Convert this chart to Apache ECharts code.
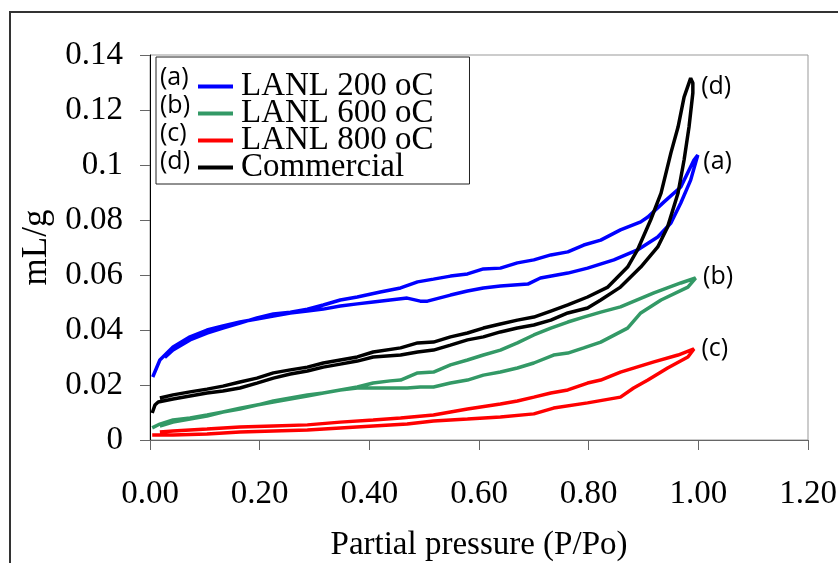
<!DOCTYPE html>
<html>
<head>
<meta charset="utf-8">
<script src="https://cdn.jsdelivr.net/npm/echarts@6/dist/echarts.min.js"></script>
<style>
  html, body { margin: 0; padding: 0; background: #fff; }
  #chart { width: 838px; height: 563px; }
</style>
</head>
<body>
<div id="chart"></div>
<script>
// legend names and tags
const seriesNames = ['LANL 200 oC', 'LANL 600 oC', 'LANL 800 oC', 'Commercial'];
const seriesTags = ['(a)', '(b)', '(c)', '(d)'];
const seriesColors = ['#0000ff', '#339966', '#ff0000', '#000000'];

// (a) LANL 200 oC : adsorption then desorption branch, [P/Po, mL/g]
const blueAds = [[0.005,0.0229],[0.018,0.0291],[0.042,0.0338],[0.073,0.0375],[0.104,0.040],[0.133,0.0415],
  [0.164,0.0429],[0.195,0.044],[0.225,0.0451],[0.256,0.0462],[0.287,0.0469],[0.316,0.0476],[0.347,0.0487],
  [0.378,0.0495],[0.407,0.0502],[0.438,0.0509],[0.469,0.0516],[0.493,0.0505],[0.506,0.0505],[0.548,0.0527],
  [0.579,0.0542],[0.608,0.0553],[0.639,0.056],[0.689,0.0567],[0.712,0.0589],[0.762,0.0607],[0.798,0.0625],
  [0.846,0.0655],[0.889,0.0691],[0.926,0.0738],[0.950,0.0789],[0.968,0.0862],[0.986,0.0945],[0.999,0.1036]];
const blueDes = [[0.992,0.1018],[0.968,0.092],[0.937,0.0865],[0.908,0.0811],[0.895,0.0793],[0.858,0.0764],
  [0.822,0.0727],[0.791,0.0709],[0.762,0.0684],[0.731,0.0673],[0.70,0.0655],[0.670,0.0644],[0.639,0.0625],
  [0.608,0.0622],[0.579,0.0604],[0.548,0.0596],[0.517,0.0585],[0.488,0.0575],[0.457,0.0553],[0.42,0.0538],
  [0.378,0.052],[0.347,0.0509],[0.316,0.0491],[0.287,0.0476],[0.256,0.0465],[0.225,0.0458],[0.195,0.0444],
  [0.164,0.0425],[0.133,0.0407],[0.104,0.0389],[0.073,0.0364],[0.042,0.0327],[0.027,0.030]];

// (b) LANL 600 oC
const greenAds = [[0.004,0.0044],[0.018,0.0058],[0.042,0.0073],[0.073,0.008],[0.104,0.0091],[0.133,0.0102],
  [0.164,0.0116],[0.195,0.0127],[0.225,0.0142],[0.256,0.0153],[0.287,0.0164],[0.316,0.0171],[0.347,0.0182],
  [0.378,0.0189],[0.407,0.0189],[0.438,0.0189],[0.469,0.0189],[0.493,0.0193],[0.517,0.0193],[0.548,0.0207],
  [0.579,0.0218],[0.608,0.0236],[0.639,0.0247],[0.670,0.0262],[0.70,0.028],[0.736,0.0309],[0.762,0.0316],
  [0.791,0.0335],[0.822,0.0356],[0.871,0.0407],[0.895,0.0462],[0.932,0.0509],[0.981,0.0556],[0.995,0.0589]];
const greenDes = [[0.968,0.0571],[0.919,0.0535],[0.858,0.0484],[0.822,0.0465],[0.791,0.0447],[0.762,0.0429],
  [0.731,0.0407],[0.70,0.0382],[0.670,0.0353],[0.639,0.0327],[0.608,0.0309],[0.579,0.0291],[0.548,0.0273],
  [0.517,0.0247],[0.488,0.0244],[0.457,0.0218],[0.438,0.0215],[0.407,0.0207],[0.378,0.0193],[0.347,0.0182],
  [0.316,0.0171],[0.287,0.016],[0.256,0.0149],[0.225,0.0138],[0.195,0.0127],[0.164,0.0113],[0.133,0.0102],
  [0.104,0.0087],[0.073,0.0076],[0.042,0.0065],[0.018,0.0051]];

// (c) LANL 800 oC
const redAds = [[0.004,0.0018],[0.042,0.0018],[0.104,0.0022],[0.164,0.0029],[0.225,0.0033],[0.287,0.0036],
  [0.347,0.0044],[0.407,0.0051],[0.469,0.0058],[0.517,0.0069],[0.579,0.0076],[0.639,0.0084],[0.70,0.0095],
  [0.736,0.0116],[0.798,0.0135],[0.858,0.0156],[0.882,0.0189],[0.908,0.0218],[0.944,0.0262],[0.981,0.0302],
  [0.992,0.0331]];
const redDes = [[0.963,0.0309],[0.919,0.0284],[0.858,0.0247],[0.822,0.0218],[0.798,0.0207],[0.762,0.0182],
  [0.731,0.0171],[0.70,0.0156],[0.670,0.0142],[0.639,0.0131],[0.579,0.0113],[0.517,0.0091],[0.457,0.008],
  [0.407,0.0073],[0.347,0.0065],[0.287,0.0055],[0.225,0.0051],[0.164,0.0047],[0.104,0.004],[0.042,0.0033],
  [0.018,0.0029]];

// (d) Commercial
const blackAds = [[0.004,0.0098],[0.009,0.0127],[0.015,0.0138],[0.042,0.0149],[0.073,0.016],[0.104,0.0171],
  [0.133,0.0178],[0.164,0.0189],[0.195,0.0207],[0.225,0.0225],[0.256,0.024],[0.287,0.0251],[0.316,0.0265],
  [0.347,0.0276],[0.378,0.0287],[0.407,0.0302],[0.457,0.0309],[0.488,0.032],[0.517,0.0327],[0.548,0.0345],
  [0.579,0.0364],[0.608,0.0375],[0.639,0.0393],[0.670,0.0407],[0.70,0.0418],[0.731,0.0436],[0.762,0.0462],
  [0.798,0.048],[0.822,0.0509],[0.858,0.0556],[0.895,0.0629],[0.926,0.0702],[0.944,0.0775],[0.963,0.0898],
  [0.974,0.1018],[0.983,0.1138],[0.990,0.1262],[0.990,0.1298],[0.986,0.1316]];
const blackDes = [[0.974,0.1247],[0.963,0.1138],[0.950,0.1044],[0.932,0.0898],[0.913,0.080],[0.889,0.0691],
  [0.871,0.0629],[0.835,0.0556],[0.798,0.052],[0.762,0.0491],[0.731,0.0469],[0.70,0.0447],[0.670,0.0436],
  [0.639,0.0422],[0.608,0.0407],[0.579,0.0389],[0.548,0.0375],[0.517,0.0356],[0.488,0.0353],[0.457,0.0335],
  [0.407,0.032],[0.378,0.0302],[0.347,0.0291],[0.316,0.028],[0.287,0.0265],[0.256,0.0255],[0.225,0.0244],
  [0.195,0.0225],[0.164,0.0211],[0.133,0.0196],[0.104,0.0185],[0.073,0.0175],[0.042,0.0164],[0.018,0.0153]];

const loops = [blueAds.concat(blueDes), greenAds.concat(greenDes), redAds.concat(redDes), blackAds.concat(blackDes)];
const tagOffsets = [[-5, 7], [-3, -1], [-3, 0], [0, 9]];

const serif = '"Liberation Serif", "Times New Roman", serif';
const sans = '"Open Sans", "Noto Sans", sans-serif';

const chart = echarts.init(document.getElementById('chart'));

const series = loops.map((data, i) => {
  let peak = data[0];
  data.forEach(p => { if (p[1] > peak[1]) peak = p; });
  return {
    name: seriesNames[i],
    type: 'line',
    data: data,
    showSymbol: false,
    smooth: false,
    lineStyle: { color: seriesColors[i], width: 3.5 },
    itemStyle: { color: seriesColors[i] },
    markPoint: {
      symbol: 'circle',
      symbolSize: 1,
      itemStyle: { color: 'rgba(0,0,0,0)' },
      label: {
        show: true,
        position: 'right',
        distance: 10,
        offset: tagOffsets[i],
        formatter: seriesTags[i],
        fontFamily: sans,
        fontSize: 25,
        color: '#000'
      },
      data: [{ coord: peak }]
    }
  };
});

const legendTop = 57;
const tagCenters = [77, 105, 133, 161];

const option = {
  animation: false,
  grid: {
    left: 150, right: 30, top: 55, bottom: 123,
    outerBoundsMode: 'none',
    show: true, borderColor: '#999', borderWidth: 1, backgroundColor: '#fff'
  },
  legend: {
    left: 156, top: legendTop,
    orient: 'vertical',
    padding: [13, 36, 0, 42],
    itemGap: -6,
    itemWidth: 35, itemHeight: 4,
    icon: 'rect',
    borderColor: '#222', borderWidth: 1,
    backgroundColor: '#fff',
    textStyle: { fontFamily: serif, fontSize: 33, color: '#000', padding: [0, 0, 0, 3] },
    data: seriesNames
  },
  xAxis: {
    type: 'value',
    min: 0, max: 1.2, interval: 0.2,
    name: 'Partial pressure (P/Po)',
    nameLocation: 'middle',
    nameGap: 89,
    nameTextStyle: { fontFamily: serif, fontSize: 33, color: '#000' },
    axisLine: { show: true, lineStyle: { color: '#666', width: 1 } },
    axisTick: { show: true, inside: false, length: 10, lineStyle: { color: '#666' } },
    axisLabel: { fontFamily: serif, fontSize: 33, color: '#000', margin: 38, formatter: v => v.toFixed(2) },
    splitLine: { show: false }
  },
  yAxis: {
    type: 'value',
    min: 0, max: 0.14, interval: 0.02,
    name: 'mL/g',
    nameLocation: 'middle',
    nameGap: 81,
    nameRotate: 90,
    nameTextStyle: { fontFamily: serif, fontSize: 35, color: '#000' },
    axisLine: { show: true, lineStyle: { color: '#000', width: 1 } },
    axisTick: { show: true, inside: false, length: 10, lineStyle: { color: '#666' } },
    axisLabel: { fontFamily: serif, fontSize: 33, color: '#000', margin: 27 },
    splitLine: { show: false }
  },
  graphic: [
    {
      type: 'rect', silent: true, z: -10,
      shape: { x: 10, y: 12, width: 900, height: 600 },
      style: { fill: 'none', stroke: '#333', lineWidth: 2 }
    }
  ].concat(seriesTags.map((t, i) => ({
    type: 'text', z: 100,
    left: 160, top: tagCenters[i] - 12,
    style: { text: t, font: '25px ' + sans, fill: '#000' }
  }))),
  series: series
};

chart.setOption(option);
</script>
</body>
</html>
